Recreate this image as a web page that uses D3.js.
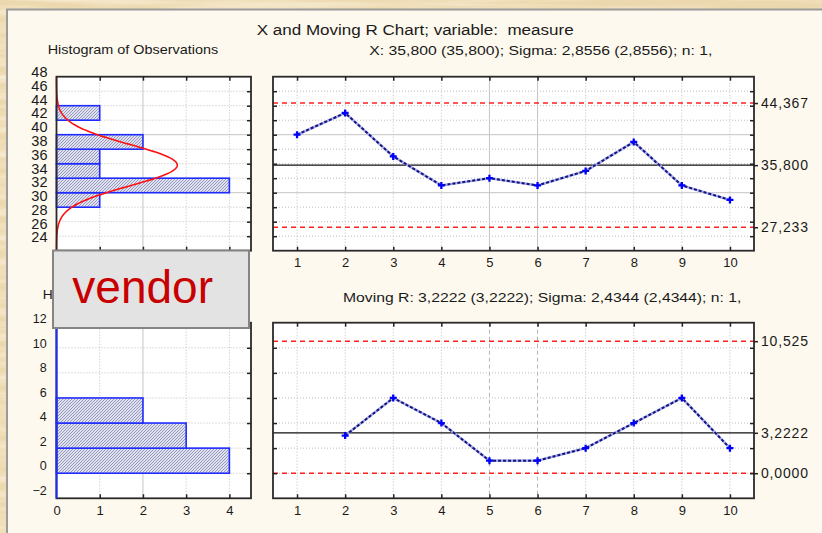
<!DOCTYPE html>
<html>
<head>
<meta charset="utf-8">
<script src="https://cdn.jsdelivr.net/npm/d3@7"></script>
<style>
  html, body { margin: 0; padding: 0; background: #ecd8ae; }
  svg { display: block; }
  text { font-family: "Liberation Sans", Arial, Helvetica, sans-serif; fill: #1a1a1a; }
</style>
</head>
<body>
<svg id="chart" width="822" height="533"></svg>
<script>
// ---- data -------------------------------------------------------------
const sampleNo      = [1, 2, 3, 4, 5, 6, 7, 8, 9, 10];
const measure       = [40, 43, 37, 33, 34, 33, 35, 39, 33, 31];
const movingRange   = [null, 3, 6, 4, 1, 1, 2, 4, 6, 2];

const xLimitValues  = [44.367, 35.8, 27.233];
const xLimitLabels  = ["44,367", "35,800", "27,233"];
const rLimitValues  = [10.525, 3.2222, 0];
const rLimitLabels  = ["10,525", "3,2222", "0,0000"];

const obsBinStart   = [30, 32, 34, 36, 38, 42];
const obsBinCount   = [1, 4, 1, 1, 2, 1];
const rBinStart     = [0, 2, 4];
const rBinCount     = [4, 3, 2];
const binWidth      = 2;
const obsMean       = 35.8;
const obsSigma      = 2.8556;

const obsTicks      = [24, 26, 28, 30, 32, 34, 36, 38, 40, 42, 44, 46, 48];
const rTicks        = [-2, 0, 2, 4, 6, 8, 10, 12];
const countTicks    = [0, 1, 2, 3, 4];

const titleText     = "X and Moving R Chart; variable:  measure";
const xSubtitle     = "X: 35,800 (35,800); Sigma: 2,8556 (2,8556); n: 1,";
const rSubtitle     = "Moving R: 3,2222 (3,2222); Sigma: 2,4344 (2,4344); n: 1,";
const histTitle1    = "Histogram of Observations";
const histTitle2    = "Histogram of Moving Ranges";
const stampText     = "vendor";

// ---- layout -----------------------------------------------------------
const svg = d3.select("#chart");
const W = 822, H = 533;

const ctrlX = d3.scaleLinear().domain([0.5, 10.5]).range([273, 754]);
const yObs  = d3.scaleLinear().domain([24, 48]).range([250.7, 76.7]);
const yR    = d3.scaleLinear().domain([-2, 12]).range([498.3, 322.7]);
const cnt   = d3.scaleLinear().domain([0, 4.5]).range([56.5, 251]);
// histogram value labels are packed slightly tighter than the grid
const yObsLabel = d3.scaleLinear().domain([24, 48]).range([237.3, 72]);
const yRLabel   = d3.scaleLinear().domain([-2, 12]).range([490, 318.7]);

// ---- defs: paper texture and bar hatch --------------------------------
const defs = svg.append("defs");
const paper = defs.append("filter").attr("id", "paper")
  .attr("x", 0).attr("y", 0).attr("width", "100%").attr("height", "100%");
paper.append("feTurbulence").attr("type", "fractalNoise")
  .attr("baseFrequency", "0.006 0.12").attr("numOctaves", 3).attr("seed", 7);
paper.append("feColorMatrix").attr("type", "matrix")
  .attr("values", "0 0 0 0 0.99  0 0 0 0 0.93  0 0 0 0 0.80  0 0 0 1.3 -0.45");

const hatch = defs.append("pattern").attr("id", "hatch")
  .attr("patternUnits", "userSpaceOnUse").attr("width", 3).attr("height", 3);
hatch.append("rect").attr("width", 3).attr("height", 3).attr("fill", "#e0e1ee");
hatch.append("path").attr("d", "M0,3 L3,0 M-1,1 L1,-1 M2,4 L4,2")
  .attr("stroke", "#8d91ba").attr("stroke-width", 0.9);

// ---- background -------------------------------------------------------
svg.append("rect").attr("width", W).attr("height", H).attr("fill", "#ecd8ae");
svg.append("rect").attr("width", W).attr("height", H).attr("filter", "url(#paper)");
svg.append("rect").attr("x", 7).attr("y", 9.5).attr("width", W).attr("height", H)
  .attr("fill", "#fdf9ee").attr("stroke", "#9a9a9a").attr("stroke-width", 2);

// ---- helpers ----------------------------------------------------------
function plotBox(x0, x1, y0, y1) {
  svg.append("rect").attr("x", x0).attr("y", y0)
    .attr("width", x1 - x0).attr("height", y1 - y0).attr("fill", "#ffffff");
}
function frame(x0, x1, y0, y1) {
  svg.append("rect").attr("x", x0).attr("y", y0)
    .attr("width", x1 - x0).attr("height", y1 - y0)
    .attr("fill", "none").attr("stroke", "#2a2a2a").attr("stroke-width", 1.8);
}
function hGrid(scale, vals, x0, x1, style) {
  svg.append("g").selectAll("line").data(vals).join("line")
    .attr("x1", x0).attr("x2", x1)
    .attr("y1", d => scale(d)).attr("y2", d => scale(d))
    .attr("stroke", style.color).attr("stroke-width", style.width || 1)
    .attr("stroke-dasharray", style.dash || null);
}
function vGrid(scale, vals, y0, y1, style) {
  svg.append("g").selectAll("line").data(vals).join("line")
    .attr("y1", y0).attr("y2", y1)
    .attr("x1", d => scale(d)).attr("x2", d => scale(d))
    .attr("stroke", style.color).attr("stroke-width", style.width || 1)
    .attr("stroke-dasharray", style.dash || null);
}
const dotted  = { color: "#bdbdbd", dash: "1,2" };
const solid   = { color: "#c4c4c4" };
const dashed  = { color: "#b4b4b4", dash: "4,3" };
const limit   = { color: "#ff2020", dash: "5,4", width: 1.5 };
const center  = { color: "#111111", width: 1.3 };

// inner tick marks along the frame edges
function innerTicks(axisFn, scale, vals, tx, ty) {
  const g = svg.append("g").attr("transform", `translate(${tx},${ty})`)
    .call(axisFn(scale).tickValues(vals).tickSize(4).tickFormat(""));
  g.select(".domain").remove();
  g.selectAll("line").attr("stroke", "#222").attr("stroke-width", 1.5);
}
function styleLabels(g, size, len) {
  g.select(".domain").remove();
  g.attr("font-family", null).attr("font-size", null);
  g.selectAll("text").attr("font-size", size).attr("fill", "#1a1a1a")
    .style("font-family", "\"Liberation Sans\", Arial, sans-serif");
  if (len) g.selectAll("text").attr("textLength", len).attr("lengthAdjust", "spacing");
}
function label(txt, x, y, size, len) {
  const t = svg.append("text").attr("x", x).attr("y", y).attr("font-size", size)
    .style("white-space", "pre").text(txt);
  if (len) t.attr("textLength", len).attr("lengthAdjust", "spacingAndGlyphs");
  return t;
}
const plusPath = "M-3.5,0H3.5M0,-3.5V3.5";
const intFmt = d3.format("d");

// ---- titles -----------------------------------------------------------
label(titleText, 256.7, 35, 14, 317);
label(xSubtitle, 369.3, 55, 12.5, 343);
label(histTitle1, 47.7, 53.5, 13, 170.6);
label(rSubtitle, 343, 301.5, 12.5, 398.4);
label(histTitle2, 42.7, 299, 13, 178);

// ---- histogram of observations ---------------------------------------
const h1 = { x0: cnt(0), x1: cnt(4.5), y0: yObs(48), y1: yObs(24) };
plotBox(h1.x0, h1.x1, h1.y0, h1.y1);
hGrid(yObs, [26, 28, 30, 34, 36, 38, 42, 44, 46], h1.x0, h1.x1, dotted);
hGrid(yObs, [32, 40], h1.x0, h1.x1, solid);
vGrid(cnt, [1, 3, 4], h1.y0, h1.y1, dotted);
vGrid(cnt, [2], h1.y0, h1.y1, solid);
svg.append("g").selectAll("rect").data(obsBinStart).join("rect")
  .attr("x", cnt(0))
  .attr("y", d => yObs(d + binWidth))
  .attr("width", (d, i) => cnt(obsBinCount[i]) - cnt(0))
  .attr("height", d => yObs(d) - yObs(d + binWidth))
  .attr("fill", "url(#hatch)").attr("stroke", "#1f2cff").attr("stroke-width", 1.6);
// fitted normal curve, scaled to counts per bin
const nObs = measure.length;
const curveVals = d3.range(24, 48.001, 0.1);
const expected = v => nObs * binWidth *
  Math.exp(-0.5 * ((v - obsMean) / obsSigma) ** 2) / (obsSigma * Math.sqrt(2 * Math.PI));
svg.append("path").datum(curveVals)
  .attr("d", d3.line().x(v => cnt(expected(v))).y(v => yObs(v)))
  .attr("fill", "none").attr("stroke", "#ff1010").attr("stroke-width", 1.6);
frame(h1.x0, h1.x1, h1.y0, h1.y1);
innerTicks(d3.axisLeft, yObs, d3.range(26, 47, 2), h1.x1, 0);
innerTicks(d3.axisBottom, cnt, [1, 2, 3, 4], 0, h1.y0);
innerTicks(d3.axisTop, cnt, [1, 2, 3, 4], 0, h1.y1);
styleLabels(svg.append("g").attr("transform", "translate(47.5,0)")
  .call(d3.axisLeft(yObsLabel).tickValues(obsTicks).tickSize(0).tickPadding(0)
    .tickFormat(intFmt)), 14.5);

// ---- X chart ----------------------------------------------------------
const c1 = { x0: ctrlX(0.5), x1: ctrlX(10.5), y0: yObs(48), y1: yObs(24) };
plotBox(c1.x0, c1.x1, c1.y0, c1.y1);
hGrid(yObs, [26, 28, 30, 34, 36, 38, 42, 44, 46], c1.x0, c1.x1, dotted);
hGrid(yObs, [32, 40], c1.x0, c1.x1, solid);
vGrid(ctrlX, [1, 2, 3, 4, 7, 8, 9, 10], c1.y0, c1.y1, dotted);
vGrid(ctrlX, [5, 6], c1.y0, c1.y1, solid);
hGrid(yObs, [xLimitValues[0], xLimitValues[2]], c1.x0, c1.x1, limit);
hGrid(yObs, [xLimitValues[1]], c1.x0, c1.x1, center);

function series(vals, yScale) {
  const pts = sampleNo.map((s, i) => [s, vals[i]]);
  const line = d3.line().defined(d => d[1] != null)
    .x(d => ctrlX(d[0])).y(d => yScale(d[1]));
  svg.append("path").datum(pts).attr("d", line)
    .attr("fill", "none").attr("stroke", "#a9ade8").attr("stroke-width", 2.6);
  svg.append("path").datum(pts).attr("d", line)
    .attr("fill", "none").attr("stroke", "#14147e").attr("stroke-width", 2)
    .attr("stroke-dasharray", "3,2");
  svg.append("g").selectAll("path").data(pts.filter(d => d[1] != null)).join("path")
    .attr("transform", d => `translate(${ctrlX(d[0])},${yScale(d[1])})`)
    .attr("d", plusPath).attr("stroke", "#0000ff").attr("stroke-width", 2.3);
}
series(measure, yObs);
frame(c1.x0, c1.x1, c1.y0, c1.y1);
innerTicks(d3.axisRight, yObs, d3.range(26, 47, 2), c1.x0, 0);
innerTicks(d3.axisLeft, yObs, d3.range(26, 47, 2), c1.x1, 0);
innerTicks(d3.axisBottom, ctrlX, sampleNo, 0, c1.y0);
innerTicks(d3.axisTop, ctrlX, sampleNo, 0, c1.y1);
{
  const g = svg.append("g").attr("transform", `translate(${c1.x1},0)`)
    .call(d3.axisRight(yObs).tickValues(xLimitValues).tickSize(4).tickPadding(3)
      .tickFormat((d, i) => xLimitLabels[i]));
  styleLabels(g, 14, 47);
  g.selectAll("line").attr("stroke", "#222").attr("stroke-width", 1.5);
}
styleLabels(svg.append("g").attr("transform", `translate(0,${c1.y1 + 7.5})`)
  .call(d3.axisBottom(ctrlX).tickValues(sampleNo).tickSize(0).tickPadding(0)
    .tickFormat(intFmt)), 13);

// ---- histogram of moving ranges --------------------------------------
const h2 = { x0: cnt(0), x1: cnt(4.5), y0: yR(12), y1: yR(-2) };
plotBox(h2.x0, h2.x1, h2.y0, h2.y1);
hGrid(yR, [0, 2, 4, 6, 8, 10], h2.x0, h2.x1, dotted);
vGrid(cnt, [1, 3, 4], h2.y0, h2.y1, dotted);
vGrid(cnt, [2], h2.y0, h2.y1, solid);
svg.append("g").selectAll("rect").data(rBinStart).join("rect")
  .attr("x", cnt(0))
  .attr("y", d => yR(d + binWidth))
  .attr("width", (d, i) => cnt(rBinCount[i]) - cnt(0))
  .attr("height", d => yR(d) - yR(d + binWidth))
  .attr("fill", "url(#hatch)").attr("stroke", "#1f2cff").attr("stroke-width", 1.6);
frame(h2.x0, h2.x1, h2.y0, h2.y1);
svg.append("line").attr("x1", cnt(0)).attr("x2", cnt(0))
  .attr("y1", h2.y0).attr("y2", h2.y1).attr("stroke", "#1f2cff").attr("stroke-width", 2);
innerTicks(d3.axisLeft, yR, d3.range(0, 11, 2), h2.x1, 0);
innerTicks(d3.axisBottom, cnt, [1, 2, 3, 4], 0, h2.y0);
innerTicks(d3.axisTop, cnt, [1, 2, 3, 4], 0, h2.y1);
styleLabels(svg.append("g").attr("transform", "translate(46.7,0)")
  .call(d3.axisLeft(yRLabel).tickValues(rTicks).tickSize(0).tickPadding(0)
    .tickFormat(intFmt)), 12.5);
styleLabels(svg.append("g").attr("transform", `translate(0,${h2.y1 + 7.5})`)
  .call(d3.axisBottom(cnt).tickValues(countTicks).tickSize(0).tickPadding(0)
    .tickFormat(intFmt)), 13);

// ---- Moving R chart ---------------------------------------------------
const c2 = { x0: ctrlX(0.5), x1: ctrlX(10.5), y0: yR(12), y1: yR(-2) };
plotBox(c2.x0, c2.x1, c2.y0, c2.y1);
hGrid(yR, [0, 2, 4, 6, 8, 10], c2.x0, c2.x1, dotted);
vGrid(ctrlX, [1, 2, 3, 4, 7, 8, 9, 10], c2.y0, c2.y1, dotted);
vGrid(ctrlX, [5, 6], c2.y0, c2.y1, dashed);
hGrid(yR, [rLimitValues[0], rLimitValues[2]], c2.x0, c2.x1, limit);
hGrid(yR, [rLimitValues[1]], c2.x0, c2.x1, center);
series(movingRange, yR);
frame(c2.x0, c2.x1, c2.y0, c2.y1);
innerTicks(d3.axisRight, yR, d3.range(0, 11, 2), c2.x0, 0);
innerTicks(d3.axisLeft, yR, d3.range(0, 11, 2), c2.x1, 0);
innerTicks(d3.axisBottom, ctrlX, sampleNo, 0, c2.y0);
innerTicks(d3.axisTop, ctrlX, sampleNo, 0, c2.y1);
{
  const g = svg.append("g").attr("transform", `translate(${c2.x1},0)`)
    .call(d3.axisRight(yR).tickValues(rLimitValues).tickSize(4).tickPadding(3)
      .tickFormat((d, i) => rLimitLabels[i]));
  styleLabels(g, 14, 47);
  g.selectAll("line").attr("stroke", "#222").attr("stroke-width", 1.5);
}
styleLabels(svg.append("g").attr("transform", `translate(0,${c2.y1 + 7.5})`)
  .call(d3.axisBottom(ctrlX).tickValues(sampleNo).tickSize(0).tickPadding(0)
    .tickFormat(intFmt)), 13);

// ---- stamp box --------------------------------------------------------
svg.append("rect").attr("x", 53).attr("y", 250.5).attr("width", 196).attr("height", 77.5)
  .attr("fill", "#e3e3e3").attr("stroke", "#858585").attr("stroke-width", 2);
svg.append("text").attr("x", 72.3).attr("y", 303.3).attr("font-size", 46)
  .style("fill", "#c80000").text(stampText);
</script>
</body>
</html>
